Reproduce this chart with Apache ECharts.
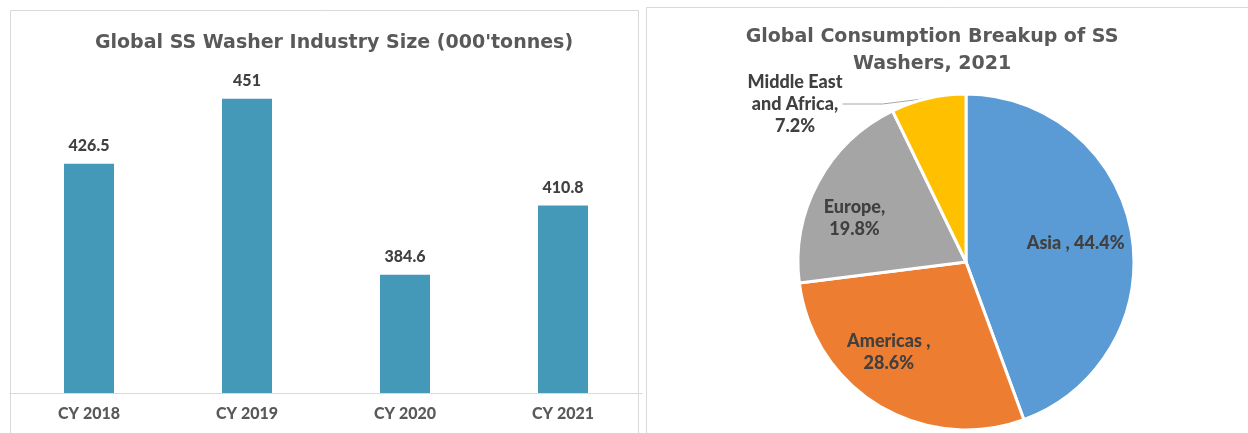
<!DOCTYPE html>
<html>
<head>
<meta charset="utf-8">
<script src="https://cdn.jsdelivr.net/npm/echarts@6/dist/echarts.min.js"></script>
<style>
    html, body {margin: 0; padding: 0; background: #fff;}
    #chart {width: 1248px; height: 433px;}
</style>
</head>
<body>
<div id="chart"></div>
<script>
// bar chart data
const years = ['CY 2018', 'CY 2019', 'CY 2020', 'CY 2021'];
const industrySize = [426.5, 451, 384.6, 410.8];

// pie chart data
const regions = ['Asia ', 'Americas ', 'Europe', 'Middle East and Africa'];
const regionShare = [44.4, 28.6, 19.8, 7.2];
const regionColors = ['#5b9bd5', '#ed7d31', '#a5a5a5', '#ffc000'];
// nudges for inside labels, like excel's best fit
const labelOffsets = [[24, -4], [-32, 16], [-35, -2], [0, 0]];

const FONT = 'Lato';
const TITLE_FONT = 'DejaVu Sans';
const TXT = '#595959';

let myChart = echarts.init(document.getElementById('chart'));
myChart.setOption({
    animation: false,
    textStyle: {fontFamily: FONT},
    graphic: [
        {type: 'rect', shape: {x: 10.5, y: 10.5, width: 628, height: 440}, style: {fill: 'none', stroke: '#d9d9d9', lineWidth: 1}},
        {type: 'rect', shape: {x: 646.5, y: 7.5, width: 620, height: 440}, style: {fill: 'none', stroke: '#d9d9d9', lineWidth: 1}}
    ],
    title: [
        {
            text: "Global SS Washer Industry Size (000'tonnes)",
            left: 329, top: 29, textAlign: 'center',
            textStyle: {fontFamily: TITLE_FONT, fontSize: 19, fontWeight: 'bold', color: TXT}
        },
        {
            text: 'Global Consumption Breakup of SS\nWashers, 2021',
            left: 927, top: 19, textAlign: 'center',
            textStyle: {fontFamily: TITLE_FONT, fontSize: 19, fontWeight: 'bold', color: TXT, lineHeight: 27}
        }
    ],
    grid: {left: 10, right: 606, top: 22, bottom: 40},
    xAxis: {
        type: 'category',
        data: years,
        axisLine: {lineStyle: {color: '#d9d9d9'}},
        axisTick: {show: false},
        axisLabel: {color: TXT, fontSize: 16, fontWeight: 900, margin: 13}
    },
    yAxis: {
        type: 'value',
        min: 340,
        max: 480,
        show: false
    },
    series: [
        {
            type: 'bar',
            data: industrySize,
            barWidth: 50,
            itemStyle: {color: '#4499b8'},
            label: {
                show: true, position: 'top', distance: 10,
                color: '#404040', fontSize: 16, fontWeight: 900, fontFamily: FONT
            }
        },
        {
            type: 'pie',
            center: [966, 262],
            radius: 168,
            startAngle: 90,
            clockwise: true,
            itemStyle: {borderColor: '#fff', borderWidth: 3},
            label: {
                position: 'inside',
                color: '#404040', fontSize: 18, fontWeight: 900, fontFamily: FONT,
                lineHeight: 22, align: 'center'
            },
            data: regions.map((name, i) => ({
                name: name,
                value: regionShare[i],
                itemStyle: {color: regionColors[i]},
                label: i === 3 ? {
                    position: 'outside',
                    formatter: 'Middle East\nand Africa,\n{c}%'
                } : {
                    offset: labelOffsets[i],
                    formatter: i === 0 ? '{b}, {c}%' : '{b},\n{c}%'
                },
                labelLine: i === 3 ? {show: true, length: 8, length2: 40, lineStyle: {color: '#a6a6a6', width: 1}} : {show: false}
            })),
            labelLayout: params => {
                if (params.dataIndex === 3) {
                    return {x: 795, y: 104, align: 'center', verticalAlign: 'middle'};
                }
            }
        }
    ]
});
</script>
</body>
</html>
